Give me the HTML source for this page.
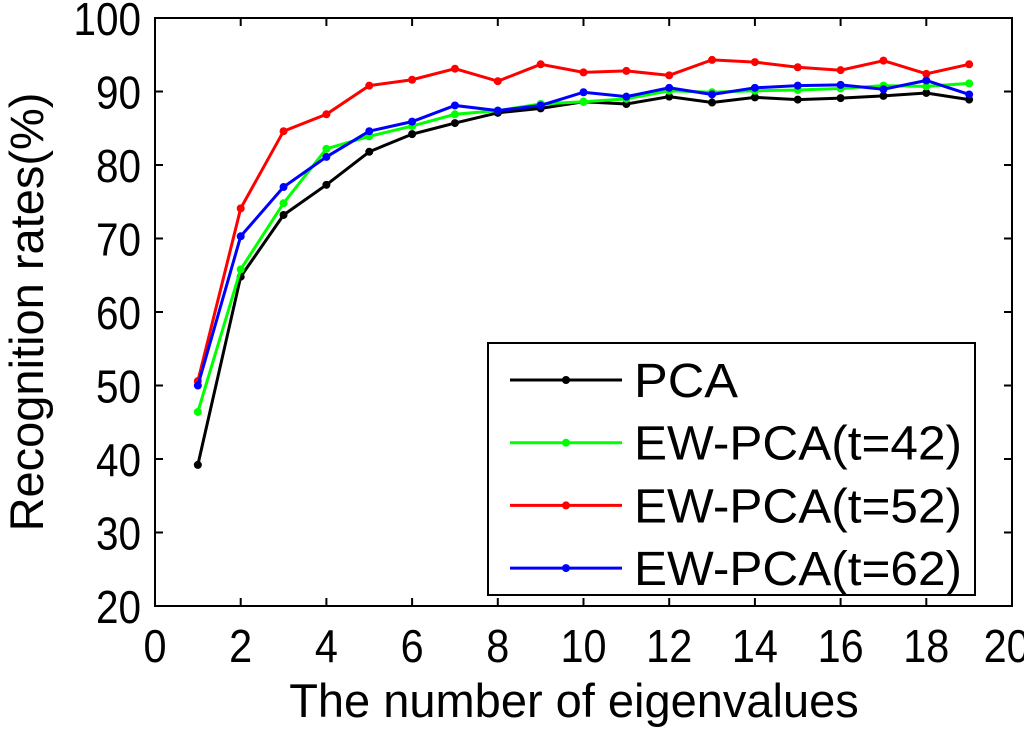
<!DOCTYPE html>
<html><head><meta charset="utf-8"><style>
body{margin:0;background:#fff}
svg text{font-family:"Liberation Sans",Arial,sans-serif;fill:#000}
</style></head><body>
<svg id="c" width="1024" height="728" xmlns="http://www.w3.org/2000/svg"></svg>
<script>
const xTicks=[0,2,4,6,8,10,12,14,16,18,20];
const yTicks=[20,30,40,50,60,70,80,90,100];
const xs=[1,2,3,4,5,6,7,8,9,10,11,12,13,14,15,16,17,18,19];
const pca=[39.2,64.8,73.2,77.3,81.8,84.2,85.7,87.1,87.7,88.6,88.3,89.3,88.5,89.2,88.9,89.1,89.4,89.8,88.9];
const ew42=[46.4,65.8,74.8,82.2,83.9,85.3,86.9,87.4,88.3,88.6,89.0,90.1,89.9,90.1,90.2,90.4,90.8,90.7,91.1];
const ew52=[50.6,74.1,84.6,86.9,90.8,91.6,93.1,91.4,93.7,92.6,92.8,92.2,94.3,94.0,93.3,92.9,94.2,92.4,93.7];
const ew62=[50.0,70.3,77.0,81.1,84.6,85.9,88.1,87.4,88.1,89.9,89.3,90.5,89.6,90.5,90.8,90.9,90.3,91.5,89.6];
const seriesNames=["PCA","EW-PCA(t=42)","EW-PCA(t=52)","EW-PCA(t=62)"];
const seriesVals=[pca,ew42,ew52,ew62];
const colors=["#000","#00ff00","#ff0000","#0000ff"];
const L=155,R=1012,T=18,B=606;
const X=v=>L+(v-0)/(20-0)*(R-L);
const Y=v=>B-(v-20)/(100-20)*(B-T);
const svg=document.getElementById('c');
const NS="http://www.w3.org/2000/svg";
function mk(t,a,p){const e=document.createElementNS(NS,t);for(const k in a)e.setAttribute(k,a[k]);(p||svg).appendChild(e);return e;}
const frame=mk('rect',{x:L,y:T,width:R-L,height:B-T,fill:'none',stroke:'#000','stroke-width':2});


xTicks.forEach(t=>{
  mk('line',{x1:X(t),x2:X(t),y1:B,y2:B-8,stroke:'#000','stroke-width':2});
  mk('line',{x1:X(t),x2:X(t),y1:T,y2:T+8,stroke:'#000','stroke-width':2});
  const e=mk('text',{x:X(t)-(t===20?6:0),y:B+56,'font-size':46,'text-anchor':'middle',transform:`translate(${X(t)},0) scale(0.9,1) translate(${-X(t)},0)`});e.textContent=t;
  
  
});
yTicks.forEach(t=>{
  mk('line',{x1:L,x2:L+8,y1:Y(t),y2:Y(t),stroke:'#000','stroke-width':2});
  mk('line',{x1:R,x2:R-8,y1:Y(t),y2:Y(t),stroke:'#000','stroke-width':2});
  const e=mk('text',{x:L-14,y:Y(t)+17,'font-size':46,'text-anchor':'end',transform:`translate(${L-14},0) scale(0.88,1) translate(${-(L-14)},0)`});e.textContent=t;
  
  
});
const xt=mk('text',{x:574,y:717,'font-size':47,'text-anchor':'middle'});xt.textContent='The number of eigenvalues';


const yt=mk('text',{x:0,y:0,'font-size':47,'text-anchor':'middle',transform:`translate(43,312) rotate(-90)`});yt.textContent='Recognition rates(%)';


seriesVals.forEach((vals,i)=>{
  const g=mk('g',{});
  
  
  mk('polyline',{points:vals.map((v,j)=>X(xs[j])+','+Y(v)).join(' '),fill:'none',stroke:colors[i],'stroke-width':3},g);
  vals.forEach((v,j)=>{const c=mk('circle',{cx:X(xs[j]),cy:Y(v),r:4,fill:colors[i]},g);
    
    });
});
const lg=mk('g',{});


mk('rect',{x:488,y:343,width:487,height:252,fill:'#fff',stroke:'#000','stroke-width':2},lg);
seriesNames.forEach((n,i)=>{
  const y=380+i*62.7;
  const eg=mk('g',{},lg);
  
  
  mk('line',{x1:510,x2:622,y1:y,y2:y,stroke:colors[i],'stroke-width':3},eg);
  mk('circle',{cx:566,cy:y,r:4,fill:colors[i]},eg);
  const t=mk('text',{x:634,y:y+17,'font-size':48,textLength:(n.length>3?328:104),lengthAdjust:'spacingAndGlyphs'},eg);t.textContent=n;
});
</script>
</body></html>
